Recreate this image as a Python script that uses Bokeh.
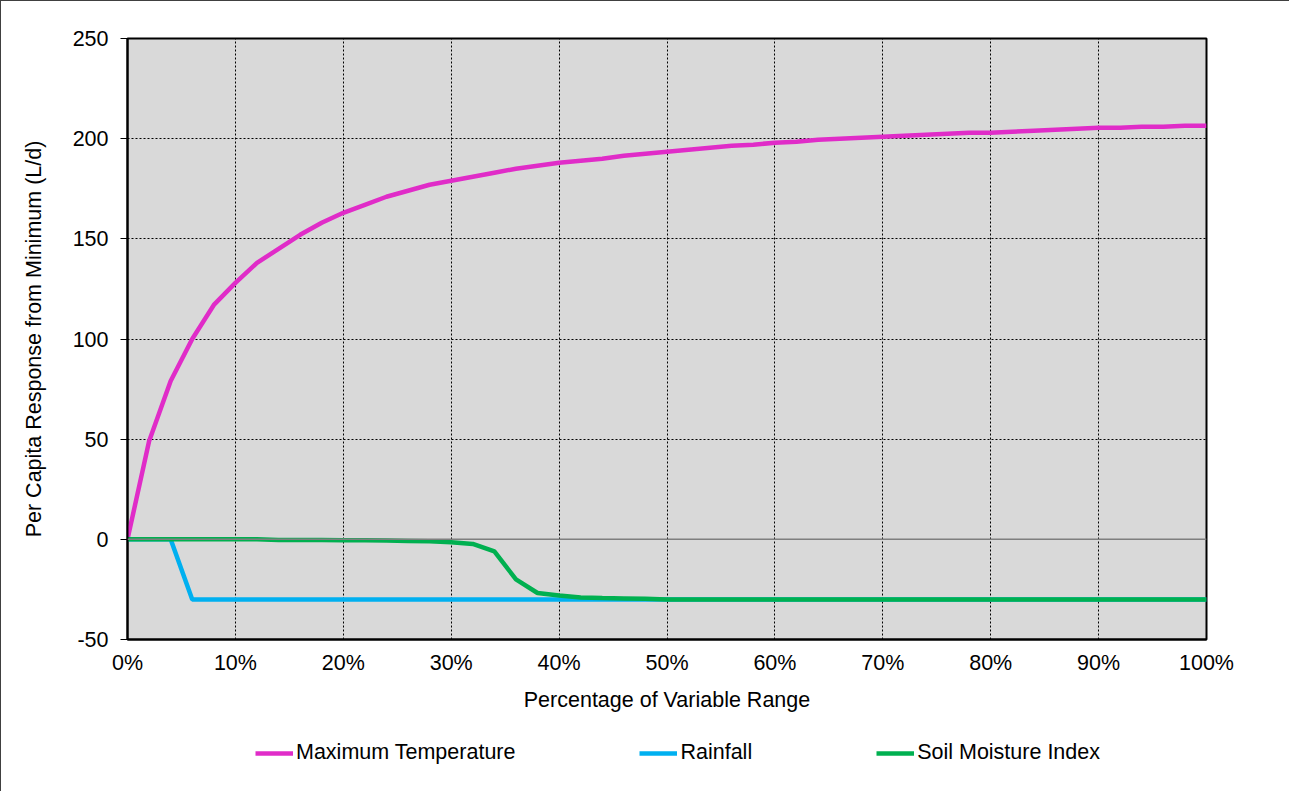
from bokeh.plotting import figure
from bokeh.layouts import column
from bokeh.models import Legend, LegendItem, Span, NumeralTickFormatter, PrintfTickFormatter, FixedTicker, Range1d
from bokeh.embed import file_html
from bokeh.resources import INLINE

pct = [0.00, 0.02, 0.04, 0.06, 0.08, 0.10, 0.12, 0.14, 0.16, 0.18, 0.20,
       0.22, 0.24, 0.26, 0.28, 0.30, 0.32, 0.34, 0.36, 0.38, 0.40,
       0.42, 0.44, 0.46, 0.48, 0.50, 0.52, 0.54, 0.56, 0.58, 0.60,
       0.62, 0.64, 0.66, 0.68, 0.70, 0.72, 0.74, 0.76, 0.78, 0.80,
       0.82, 0.84, 0.86, 0.88, 0.90, 0.92, 0.94, 0.96, 0.98, 1.00]

max_temp = [0, 49, 79, 100, 117, 128, 138, 145, 152, 158, 163,
            167, 171, 174, 177, 179, 181, 183, 185, 186.5, 188,
            189, 190, 191.5, 192.5, 193.5, 194.5, 195.5, 196.5, 197, 198,
            198.5, 199.5, 200, 200.5, 201, 201.5, 202, 202.5, 203, 203,
            203.5, 204, 204.5, 205, 205.5, 205.5, 206, 206, 206.5, 206.5]

rainfall = [0, 0, 0, -30, -30, -30, -30, -30, -30, -30, -30,
            -30, -30, -30, -30, -30, -30, -30, -30, -30, -30,
            -30, -30, -30, -30, -30, -30, -30, -30, -30, -30,
            -30, -30, -30, -30, -30, -30, -30, -30, -30, -30,
            -30, -30, -30, -30, -30, -30, -30, -30, -30, -30]

soil_moisture = [0, 0, 0, 0, 0, 0, 0, -0.3, -0.3, -0.3, -0.4,
                 -0.4, -0.6, -0.8, -1.0, -1.5, -2.3, -6, -20, -26.8, -28,
                 -29, -29.3, -29.5, -29.7, -30, -30, -30, -30, -30, -30,
                 -30, -30, -30, -30, -30, -30, -30, -30, -30, -30,
                 -30, -30, -30, -30, -30, -30, -30, -30, -30, -30]

series_names = ["Maximum Temperature", "Rainfall", "Soil Moisture Index"]
series_colors = ["#e02cc8", "#00b0f0", "#00b050"]

x_ticks = [0, 0.1, 0.2, 0.3, 0.4, 0.5, 0.6, 0.7, 0.8, 0.9, 1.0]
y_ticks = [-50, 0, 50, 100, 150, 200, 250]

FONT = "Liberation Sans"
FS = "21.5px"

p = figure(width=1288, height=718, output_backend="svg", toolbar_location=None,
           x_range=Range1d(0, 1), y_range=Range1d(-50, 250),
           min_border_left=126, min_border_top=37, min_border_right=83, min_border_bottom=80,
           background_fill_color="#d9d9d9", border_fill_color="white",
           outline_line_color="#000000", outline_line_width=2)

p.xaxis.ticker = FixedTicker(ticks=x_ticks)
p.yaxis.ticker = FixedTicker(ticks=y_ticks)
p.xaxis.formatter = NumeralTickFormatter(format="0%")
p.yaxis.formatter = PrintfTickFormatter(format="%d")

for ax in (p.xaxis[0], p.yaxis[0]):
    ax.axis_line_color = "#000000"
    ax.axis_line_width = 2
    ax.major_label_text_font = FONT
    ax.major_label_text_font_size = FS
    ax.major_label_text_color = "#000000"
    ax.axis_label_text_font = FONT
    ax.axis_label_text_font_size = FS
    ax.axis_label_text_font_style = "normal"
    ax.axis_label_text_color = "#000000"
    ax.minor_tick_line_color = None

p.xaxis.major_tick_out = 0
p.xaxis.major_tick_in = 0
p.xaxis.major_label_standoff = 11
p.xaxis.axis_label = "Percentage of Variable Range"
p.xaxis.axis_label_standoff = 10

p.yaxis.major_tick_out = 7
p.yaxis.major_tick_in = 0
p.yaxis.major_tick_line_color = "#000000"
p.yaxis.major_label_standoff = 12
p.yaxis.axis_label = "Per Capita Response from Minimum (L/d)"
p.yaxis.axis_label_standoff = 24

p.xgrid.grid_line_color = "#000000"
p.xgrid.grid_line_dash = "2 2"
p.xgrid.grid_line_width = 1
p.ygrid.grid_line_color = "#000000"
p.ygrid.grid_line_dash = "2 2"
p.ygrid.grid_line_width = 1

p.add_layout(Span(location=0, dimension="width", line_color="#7f7f7f", line_width=1.5))

series_values = [max_temp, rainfall, soil_moisture]
for vals, col in zip(series_values, series_colors):
    p.line(pct, vals, line_color=col, line_width=4.5)

# Legend strip below the chart (its lines use the same data, scrolled out of view)
lg = figure(width=1288, height=72, output_backend="svg", toolbar_location=None,
            x_range=Range1d(0, 1), y_range=Range1d(1000, 1001),
            x_axis_type=None, y_axis_type=None,
            min_border=0, outline_line_color=None,
            background_fill_color="white", border_fill_color="white")
lg.xgrid.visible = False
lg.ygrid.visible = False
items = []
for name, vals, col in zip(series_names, series_values, series_colors):
    r = lg.line(pct, vals, line_color=col, line_width=4.5)
    items.append(LegendItem(label=name, renderers=[r]))

legend = Legend(items=items, orientation="horizontal", location=(128, 26),
                background_fill_alpha=0, border_line_color=None,
                padding=0, margin=0, spacing=124, label_standoff=3,
                glyph_width=38, glyph_height=20, label_height=20,
                label_text_font=FONT, label_text_font_size=FS, label_text_color="#000000")
lg.add_layout(legend, "center")

layout = column(p, lg, spacing=0,
                styles={"border-left": "1px solid #404040", "border-top": "1px solid #404040"})

open("out.html", "w").write(file_html(layout, INLINE))
